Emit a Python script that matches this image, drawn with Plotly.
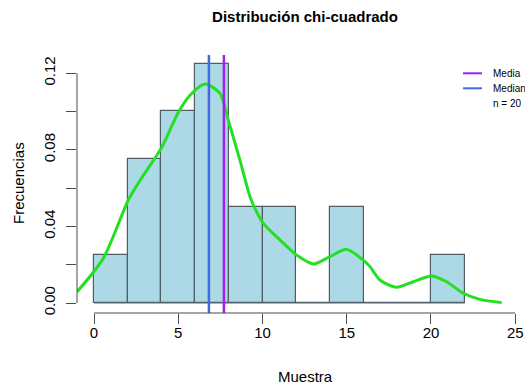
import plotly.graph_objects as go

# --- data ---
bin_edges = [0, 2, 4, 6, 8, 10, 12, 14, 16, 18, 20, 22]
densities = [0.025, 0.075, 0.100, 0.125, 0.050, 0.050, 0.0, 0.050, 0.0, 0.0, 0.025]
media = 7.71
mediana = 6.82
n_obs = 20
kde_x = [-1.0, 0.55, 2.04, 2.73, 4.0, 5.0, 5.7, 6.59, 7.48, 7.97, 8.66, 9.26, 9.55, 10.05,
         11.04, 12.03, 13.02, 14.0, 15.0, 15.98, 16.38, 16.97, 17.96, 18.95, 20.04,
         20.93, 21.92, 22.91, 24.2]
kde_y = [0.0059, 0.0233, 0.0538, 0.0640, 0.0810, 0.0995, 0.1085, 0.1143, 0.1094, 0.0955,
         0.0746, 0.0555, 0.0494, 0.0416, 0.0329, 0.0250, 0.0204, 0.0242, 0.0280, 0.0224,
         0.0190, 0.0120, 0.0082, 0.0111, 0.0141, 0.0111, 0.0051, 0.0019, 0.0002]
x_ticks = [0, 5, 10, 15, 20, 25]
y_ticks = [0.00, 0.04, 0.08, 0.12]
y_ticklabels = ["0.00", "0.04", "0.08", "0.12"]

centers = [(a + b) / 2 for a, b in zip(bin_edges[:-1], bin_edges[1:])]
widths = [b - a for a, b in zip(bin_edges[:-1], bin_edges[1:])]

W, H = 525, 385
L, R, T, B = 77, 0, 55, 72
AX = "#4a4a4a"
FONT = "Liberation Sans, Arial, Helvetica, sans-serif"

fig = go.Figure()
# baseline under zero-height bins
fig.add_trace(go.Scatter(x=[bin_edges[0], bin_edges[-1]], y=[0, 0], mode="lines",
                         line=dict(color="#5a6670", width=1.2), hoverinfo="skip",
                         showlegend=False))
fig.add_trace(go.Bar(x=centers, y=densities, width=widths,
                     marker=dict(color="#ADD8E6", line=dict(color="#505c66", width=1.2)),
                     showlegend=False))
fig.add_trace(go.Scatter(x=kde_x, y=kde_y, mode="lines", line_shape="spline",
                         line=dict(color="#22e022", width=3, smoothing=0.75), showlegend=False))

fig.add_vline(x=mediana, line=dict(color="#4169E1", width=2.5))
fig.add_vline(x=media, line=dict(color="#A020F0", width=2.5))

# R-style axis lines spanning the tick range
fig.add_shape(type="line", xref="x", yref="paper", x0=x_ticks[0], x1=x_ticks[-1],
              y0=0, y1=0, line=dict(color=AX, width=1))
fig.add_shape(type="line", xref="paper", yref="y", x0=0, x1=0,
              y0=y_ticks[0], y1=y_ticks[-1], line=dict(color=AX, width=1))

# legend (drawn manually, R style)
def px_x(p):
    return (p - L) / (W - L - R)

def px_y(p):
    return 1 - (p - T) / (H - T - B)

leg = [("Media", "#A020F0", 73.3), ("Mediana", "#4169E1", 88.3), (f"n = {n_obs}", None, 103.3)]
for label, col, yy in leg:
    if col:
        fig.add_shape(type="line", xref="paper", yref="paper", x0=px_x(463), x1=px_x(482),
                      y0=px_y(yy), y1=px_y(yy), line=dict(color=col, width=2))
    fig.add_annotation(text=label, xref="paper", yref="paper", x=px_x(491), y=px_y(yy),
                       xanchor="left", yanchor="middle", showarrow=False,
                       font=dict(size=10, color="black", family=FONT))

fig.add_annotation(text="Muestra", xref="paper", yref="paper", x=px_x(305), y=px_y(376),
                   xanchor="center", yanchor="middle", showarrow=False,
                   font=dict(size=15, color="black", family=FONT))
fig.add_annotation(text="Frecuencias", xref="paper", yref="paper", x=px_x(18), y=px_y(183),
                   xanchor="center", yanchor="middle", textangle=-90, showarrow=False,
                   font=dict(size=15, color="black", family=FONT))

fig.update_layout(
    width=W, height=H,
    margin=dict(l=L, r=R, t=T, b=B, pad=0),
    paper_bgcolor="white", plot_bgcolor="white",
    title=dict(text="<b>Distribución chi-cuadrado</b>", xref="container", yref="container",
               x=305 / W, y=1 - 17 / H, xanchor="center", yanchor="middle",
               font=dict(size=15, color="black", family=FONT)),
    showlegend=False,
    bargap=0,
    font=dict(family=FONT, color="black"),
)
fig.update_xaxes(range=[-1.01, 25.58], showgrid=False, zeroline=False, showline=False,
                 tickmode="array", tickvals=x_ticks, ticks="outside", ticklen=10,
                 tickcolor=AX, tickwidth=1, tickfont=dict(size=15, color="black"),
                 ticklabelstandoff=-4)
fig.update_yaxes(range=[-0.00522, 0.1295], showgrid=False, zeroline=False, showline=False,
                 tickmode="array", tickvals=y_ticks, ticktext=y_ticklabels, ticks="outside",
                 ticklen=10, tickcolor=AX, tickwidth=1, tickangle=-90,
                 tickfont=dict(size=15, color="black"), ticklabelstandoff=5,
                 minor=dict(ticks="outside", ticklen=10, tickcolor=AX, dtick=0.02, tick0=0))

fig.write_html("out.html")
